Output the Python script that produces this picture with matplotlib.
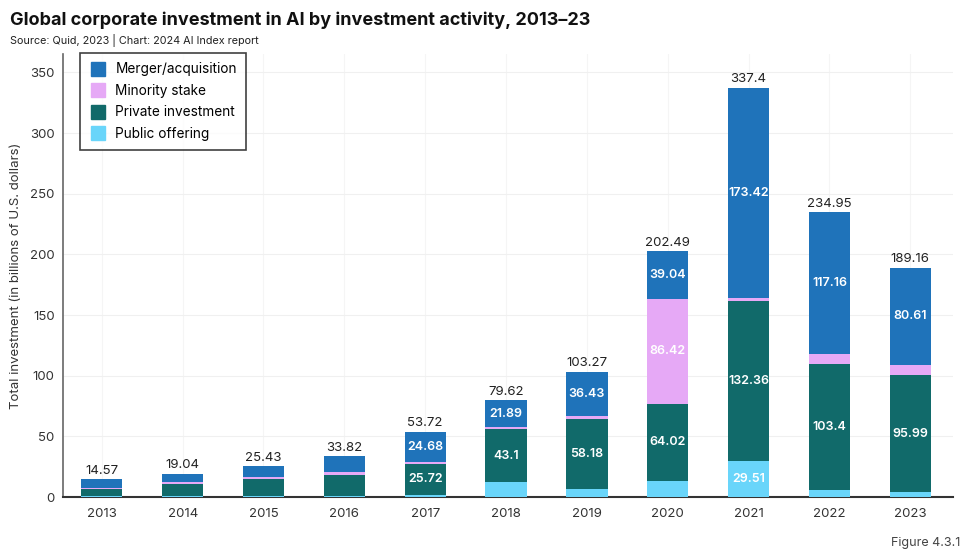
import matplotlib
matplotlib.use("Agg")
import matplotlib.pyplot as plt
import numpy as np
from matplotlib.lines import Line2D

plt.rcParams['font.family'] = ['Inter', 'DejaVu Sans']

years = ["2013", "2014", "2015", "2016", "2017", "2018", "2019", "2020", "2021", "2022", "2023"]
public_offering = [0.6, 1.1, 1.13, 0.92, 1.72, 12.63, 6.46, 13.01, 29.51, 5.89, 4.26]
private_investment = [5.6, 9.9, 13.8, 17.6, 25.72, 43.1, 58.18, 64.02, 132.36, 103.4, 95.99]
minority_stake = [1.4, 1.2, 1.5, 1.7, 1.6, 2.0, 2.2, 86.42, 2.11, 8.5, 8.3]
merger_acquisition = [6.97, 6.84, 9.0, 13.6, 24.68, 21.89, 36.43, 39.04, 173.42, 117.16, 80.61]
totals = [14.57, 19.04, 25.43, 33.82, 53.72, 79.62, 103.27, 202.49, 337.4, 234.95, 189.16]

series = [
    ("Public offering", public_offering, "#69d5fa"),
    ("Private investment", private_investment, "#116a6a"),
    ("Minority stake", minority_stake, "#e6a9f6"),
    ("Merger/acquisition", merger_acquisition, "#1f73ba"),
]

fig = plt.figure(figsize=(9.75, 5.57), dpi=100)
ax = fig.add_axes([0.0646, 0.1077, 0.913, 0.795])

x = np.arange(len(years))
bottom = np.zeros(len(years))
width = 0.51
for name, vals, color in series:
    vals = np.array(vals)
    ax.bar(x, vals, width, bottom=bottom, color=color, label=name, zorder=3)
    for xi, b, v in zip(x, bottom, vals):
        if v >= 20:
            ax.text(xi, b + v / 2, f"{v:g}", ha="center", va="center",
                    color="white", fontsize=9, fontweight="semibold", zorder=4)
    bottom = bottom + vals

for xi, t in zip(x, totals):
    ax.text(xi, t + 2, f"{t:g}", ha="center", va="bottom", color="#222222", fontsize=9.5, zorder=4)

ax.set_ylim(0, 365)
ax.set_xlim(-0.48, 10.53)
ax.set_yticks(np.arange(0, 351, 50))
ax.set_xticks(x)
ax.set_xticklabels(years)
ax.tick_params(axis="both", labelsize=9.5, colors="#333333", length=0)
ax.tick_params(axis="x", pad=8)
ax.tick_params(axis="y", pad=6)
ax.grid(axis="y", color="#f0f0f0", linewidth=0.8, zorder=0)
ax.grid(axis="x", color="#f5f5f5", linewidth=0.8, zorder=0)
for s in ["top", "right"]:
    ax.spines[s].set_visible(False)
ax.spines["left"].set_color("#666666")
ax.spines["left"].set_linewidth(1.2)
ax.spines["bottom"].set_color("#333333")
ax.spines["bottom"].set_linewidth(1.5)
ax.set_ylabel("Total investment (in billions of U.S. dollars)", fontsize=9.5, color="#333333", labelpad=6)

handles = [Line2D([0], [0], marker="s", linestyle="None", markersize=9.5, markerfacecolor=c,
                  markeredgecolor=c, label=n) for n, _, c in reversed(series)]
leg = ax.legend(handles=handles, loc="upper left", bbox_to_anchor=(0.019, 1.003), borderaxespad=0,
                frameon=True, fancybox=False, edgecolor="#111111", fontsize=9.8, handletextpad=0.7,
                borderpad=0.7, labelspacing=0.55, handlelength=1.2)
leg.get_frame().set_linewidth(1.2)
leg.set_zorder(5)

fig.text(0.010, 0.963, "Global corporate investment in AI by investment activity, 2013\u201323",
         fontsize=13, fontweight="bold", color="#111111", va="center")
fig.text(0.010, 0.928, "Source: Quid, 2023 | Chart: 2024 AI Index report",
         fontsize=7.8, color="#222222", va="center")
fig.text(0.985, 0.025, "Figure 4.3.1", fontsize=9, color="#444444", ha="right", va="center")

fig.savefig("out.png", dpi=100, facecolor="white")
